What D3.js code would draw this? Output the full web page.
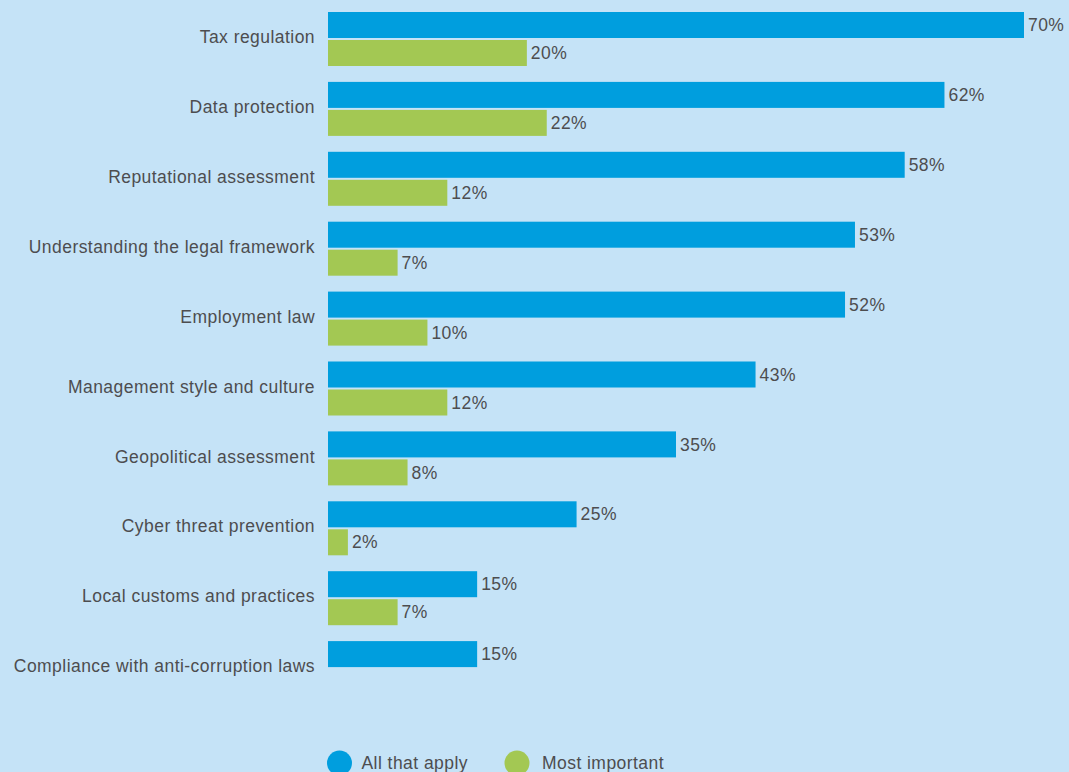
<!DOCTYPE html>
<html>
<head>
<meta charset="utf-8">
<script src="https://cdn.jsdelivr.net/npm/d3@7"></script>
<style>
  html, body { margin: 0; padding: 0; background: #c5e3f7; }
  svg { display: block; }
  text { font-family: "Liberation Sans", Arial, sans-serif; font-weight: 400; fill: #4d4d4f; letter-spacing: 0.45px; }
</style>
</head>
<body>
<svg id="chart" width="1069" height="772"></svg>
<script>
// Legal and regulatory topics: share of respondents
const categories = [
  "Tax regulation",
  "Data protection",
  "Reputational assessment",
  "Understanding the legal framework",
  "Employment law",
  "Management style and culture",
  "Geopolitical assessment",
  "Cyber threat prevention",
  "Local customs and practices",
  "Compliance with anti-corruption laws"
];
const seriesNames = ["All that apply", "Most important"];
const allThatApply  = [70, 62, 58, 53, 52, 43, 35, 25, 15, 15];
const mostImportant = [20, 22, 12, 7, 10, 12, 8, 2, 7, null];
const colors = ["#009ede", "#a3c853"];

const svg = d3.select("#chart");
const W = 1069, H = 772;
const fontSize = 17.5;

svg.append("rect").attr("width", W).attr("height", H).attr("fill", "#c5e3f7");

const x = d3.scaleLinear().domain([0, 70]).range([328, 1024]);
const y = d3.scaleBand().domain(categories).range([12, 711]).paddingInner(0).paddingOuter(0);
const ySub = d3.scaleBand().domain(seriesNames).range([0, 54]).paddingInner(2 / 28);

const rows = categories.map((c, i) => ({
  cat: c,
  values: [
    { s: seriesNames[0], v: allThatApply[i], color: colors[0] },
    { s: seriesNames[1], v: mostImportant[i], color: colors[1] }
  ].filter(d => d.v != null)
}));

const g = svg.append("g");

const groups = g.selectAll("g.row").data(rows).join("g")
  .attr("class", "row")
  .attr("transform", d => `translate(0,${y(d.cat)})`);

groups.selectAll("rect").data(d => d.values).join("rect")
  .attr("x", x(0))
  .attr("y", d => ySub(d.s))
  .attr("width", d => x(d.v) - x(0))
  .attr("height", ySub.bandwidth())
  .attr("fill", d => d.color);

groups.selectAll("text.val").data(d => d.values).join("text")
  .attr("class", "val")
  .attr("x", d => x(d.v) + 4)
  .attr("y", d => ySub(d.s) + ySub.bandwidth() / 2)
  .attr("dy", "0.35em")
  .attr("font-size", fontSize)
  .text(d => d.v + "%");

groups.append("text")
  .attr("class", "cat")
  .attr("x", 315)
  .attr("y", 25)
  .attr("dy", "0.35em")
  .attr("text-anchor", "end")
  .attr("font-size", fontSize)
  .text(d => d.cat);

// Legend
const legend = svg.append("g").attr("transform", "translate(0,763)");
const legendX = [339.5, 517];
const legendTextX = [361.5, 542];
seriesNames.forEach((s, i) => {
  legend.append("circle").attr("cx", legendX[i]).attr("cy", 0).attr("r", 12.5).attr("fill", colors[i]);
  legend.append("text").attr("x", legendTextX[i]).attr("y", 0).attr("dy", "0.35em")
    .attr("font-size", fontSize).text(s);
});
</script>
</body>
</html>
